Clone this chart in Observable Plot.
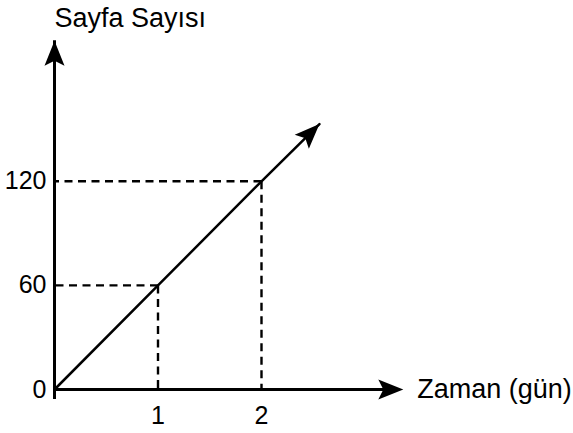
<!DOCTYPE html>
<html><head><meta charset="utf-8">
<script src="https://cdn.jsdelivr.net/npm/d3@7"></script>
<script src="https://cdn.jsdelivr.net/npm/@observablehq/plot@0.6"></script>
<style>body{margin:0;background:#fff}</style>
</head><body><div id="chart"></div>
<script>
// Data
const xTicks = [1, 2];
const yTicks = [0, 60, 120];
const guideDays = [1, 2];
const guidePages = [60, 120];
const lineDays = [0, 1, 2, 2.56];
const linePages = [0, 60, 120, 153];
const xAxisEnd = 3.37;
const yAxisEnd = 201;
const xLabel = "Zaman (gün)";
const yLabel = "Sayfa Sayısı";

const guides = guideDays.map((d, i) => ({day: d, pages: guidePages[i]}));
const line = lineDays.map((d, i) => ({day: d, pages: linePages[i]}));
const tips = [
  {day: 0, pages: yAxisEnd, angle: 0},
  {day: xAxisEnd, pages: 0, angle: 90},
  {day: lineDays[lineDays.length - 1], pages: linePages[linePages.length - 1], angle: 45}
];

// classic filled arrowhead, tip at the origin, pointing up
const arrowHead = {
  draw(ctx) {
    ctx.moveTo(0, 0);
    ctx.lineTo(10, 25);
    ctx.lineTo(0, 20);
    ctx.lineTo(-10, 25);
    ctx.closePath();
  }
};

const chart = Plot.plot({
  width: 573,
  height: 433,
  marginLeft: 54,
  marginRight: 105,
  marginTop: 42,
  marginBottom: 44,
  style: {fontFamily: "'Liberation Sans', Arial, sans-serif", background: "#fff", color: "#000"},
  x: {domain: [0, 4], axis: null},
  y: {domain: [0, 200], axis: null},
  marks: [
    // dashed guides
    Plot.link(guides, {x1: "day", y1: "pages", x2: 0, y2: "pages", stroke: "#000", strokeWidth: 2.4, strokeDasharray: "8,5.5"}),
    Plot.link(guides, {x1: "day", y1: "pages", x2: "day", y2: 0, stroke: "#000", strokeWidth: 2.4, strokeDasharray: "8,5.5"}),
    // axes lines
    Plot.ruleY([0], {x1: 0, x2: xAxisEnd, insetRight: 10, stroke: "#000", strokeWidth: 3}),
    Plot.ruleX([0], {y1: 0, y2: yAxisEnd, insetTop: 10, stroke: "#000", strokeWidth: 3}),
    // data line
    Plot.line(line, {x: "day", y: "pages", stroke: "#000", strokeWidth: 2.5}),
    // arrowheads
    Plot.dot(tips, {x: "day", y: "pages", rotate: "angle", symbol: arrowHead, r: 10, fill: "#000", stroke: "none"}),
    // tick labels
    Plot.axisX(xTicks, {tickSize: 0, tickPadding: 17, fontSize: 25, label: null, tickFormat: d => String(d)}),
    Plot.axisY(yTicks, {tickSize: 0, tickPadding: 8, fontSize: 25, label: null, tickFormat: d => String(d)}),
    // axis names
    Plot.text([yLabel], {x: 0, y: yAxisEnd, text: d => d, dy: -22, textAnchor: "start", fontSize: 27, fill: "#000"}),
    Plot.text([xLabel], {x: xAxisEnd, y: 0, text: d => d, dx: 14, textAnchor: "start", fontSize: 27, fill: "#000"})
  ]
});
document.getElementById("chart").appendChild(chart);
</script>
</body></html>
